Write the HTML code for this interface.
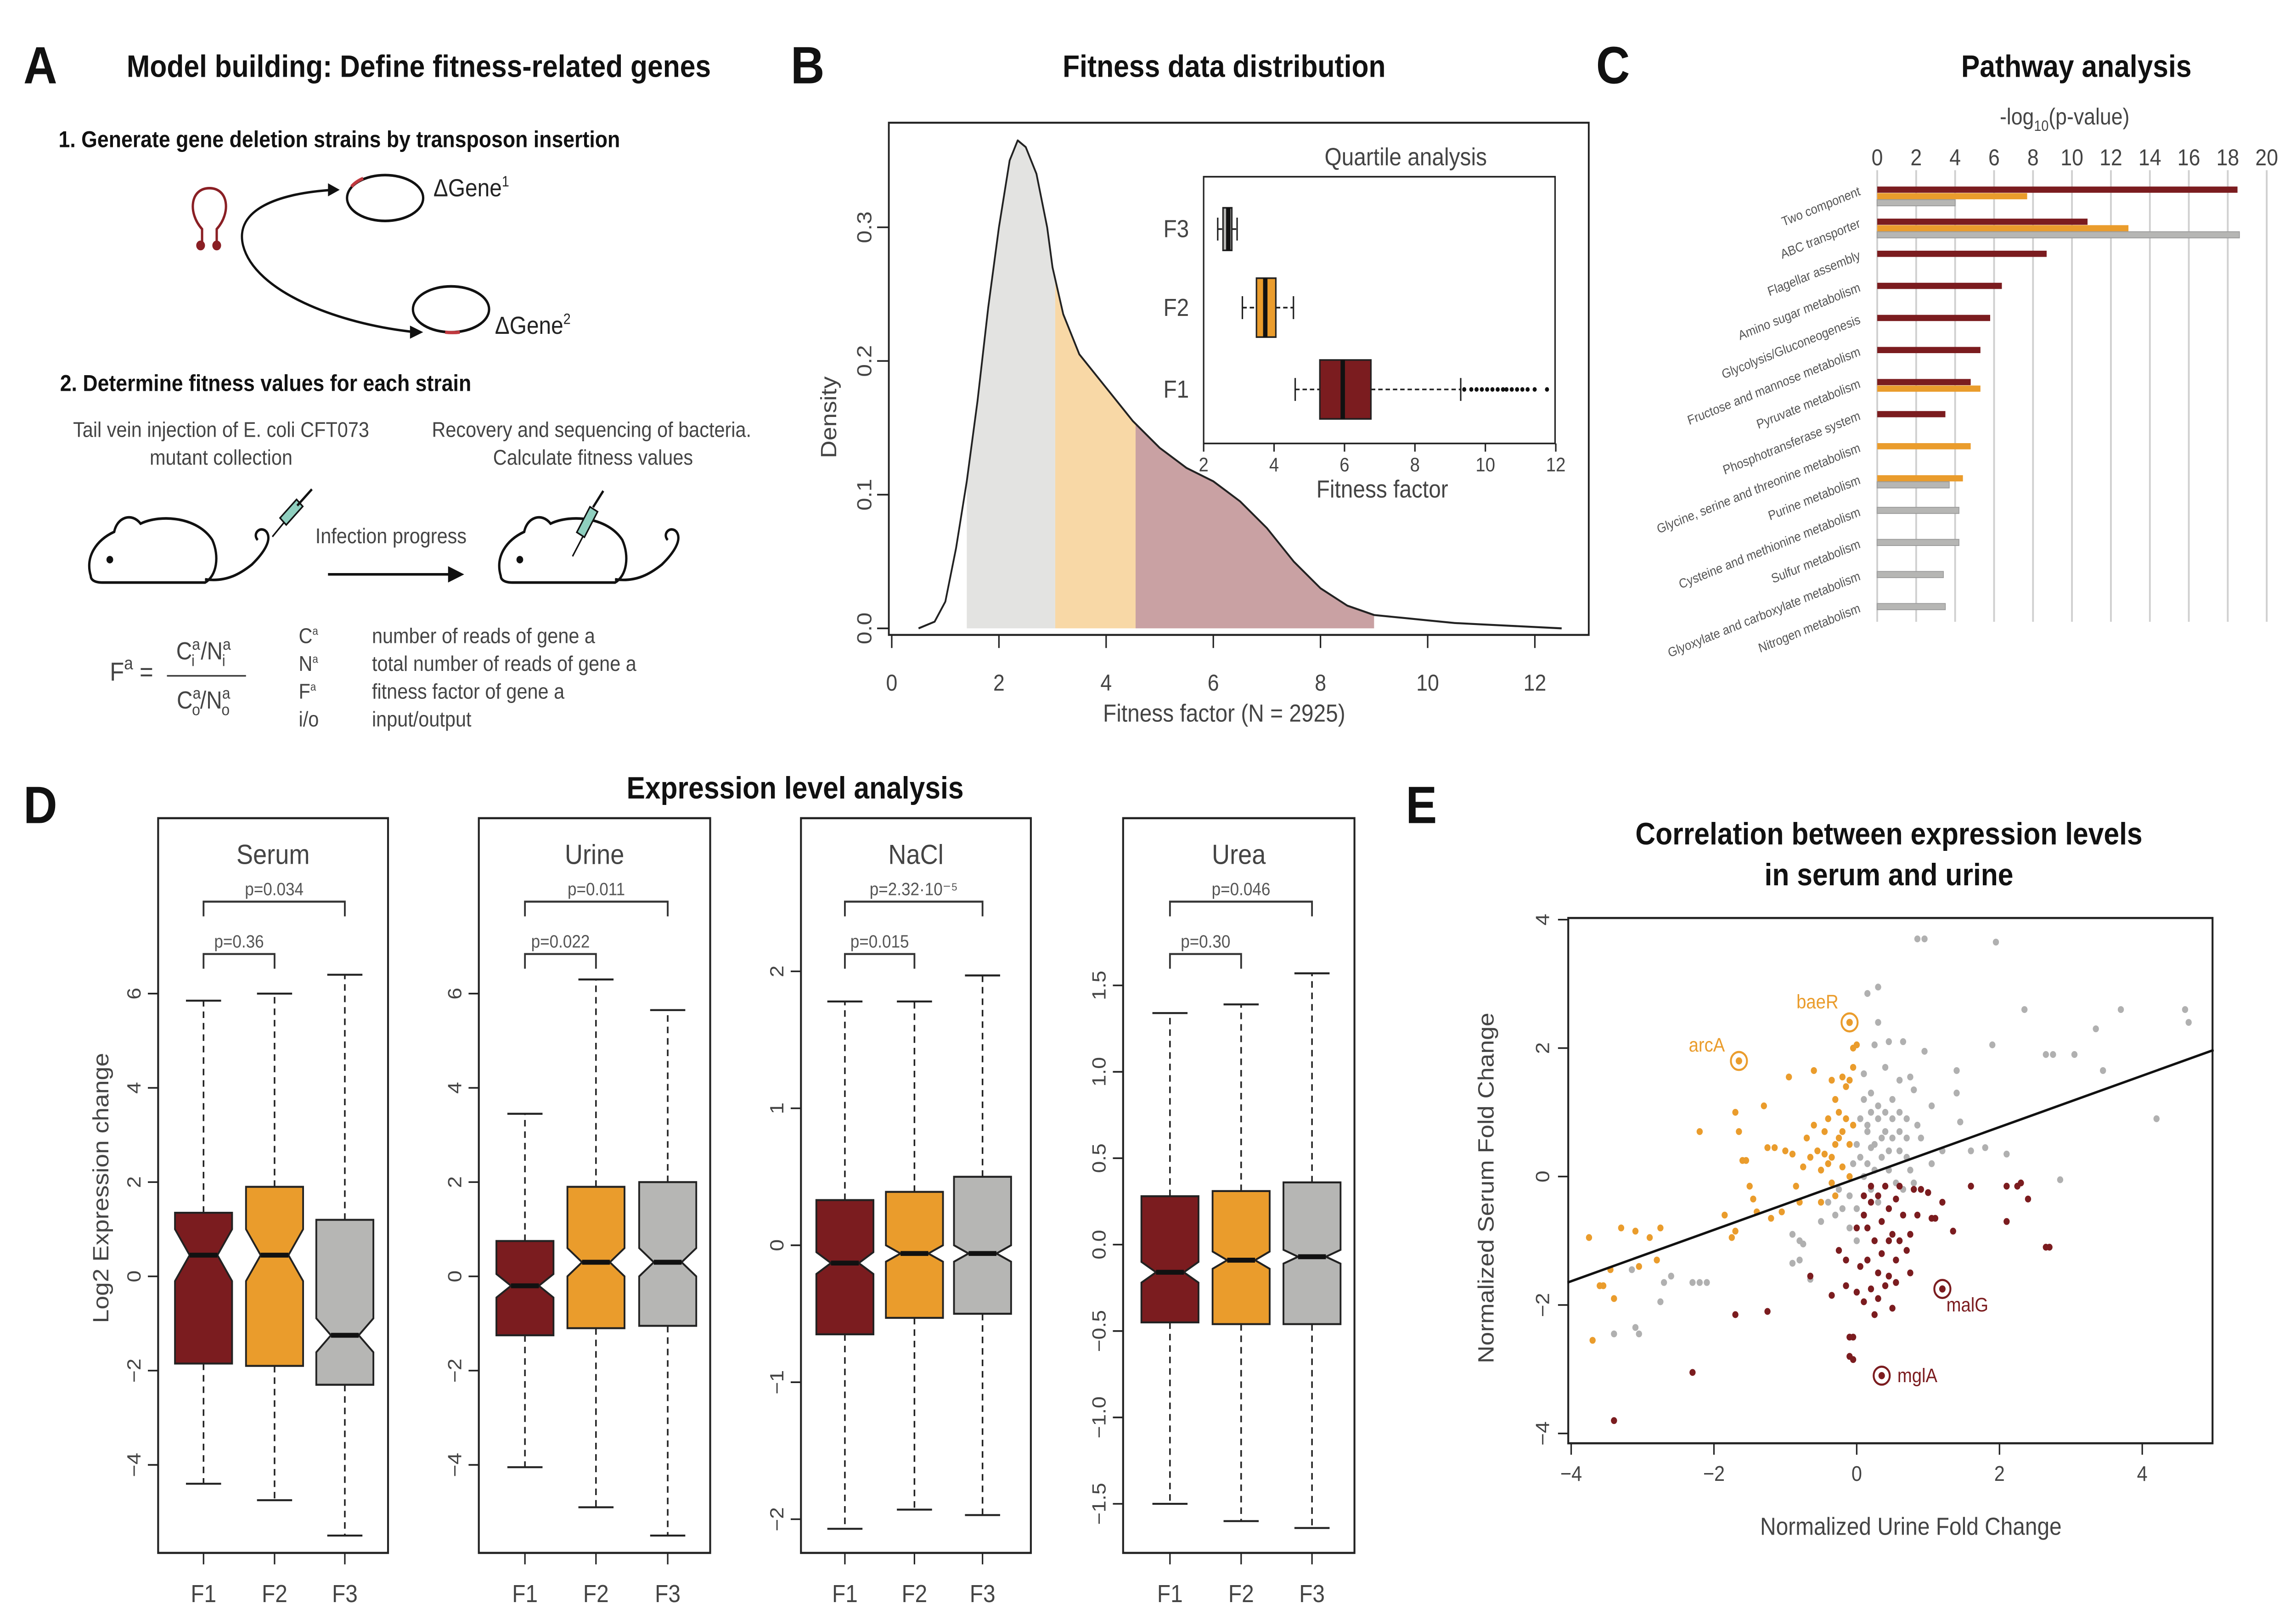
<!DOCTYPE html>
<html><head><meta charset="utf-8"><title>Fitness figure</title>
<style>
html,body{margin:0;padding:0;background:#fff;overflow:hidden;width:100%;height:100%;}
svg{display:block;font-family:"Liberation Sans",Arial,sans-serif;width:100vw;height:100vh;}
</style></head>
<body>
<svg id="fig" xmlns="http://www.w3.org/2000/svg" viewBox="0 0 1568 990" preserveAspectRatio="none">
<rect x="0" y="0" width="1568" height="990" fill="#fff"/>
<!-- ============ PANEL A ============ -->
<g>
<text x="16" y="51" font-size="32" font-weight="bold" fill="#111">A</text>
<text x="286" y="47" font-size="19" font-weight="bold" text-anchor="middle" fill="#111">Model building: Define fitness-related genes</text>
<text x="40" y="90" font-size="14" font-weight="bold" fill="#111">1. Generate gene deletion strains by transposon insertion</text>
<g fill="none" stroke="#8a1f24" stroke-width="1.6">
<path d="M138,148 L138,140 C128,130 130,115 143,115 C156,115 158,130 148,140 L148,148"/>
<circle cx="137" cy="150" r="2.2" fill="#8a1f24"/><circle cx="148" cy="150" r="2.2" fill="#8a1f24"/>
</g>
<path d="M228,116 C190,118 160,128 166,150 C174,178 230,198 284,203" fill="none" stroke="#111" stroke-width="1.5"/>
<polygon points="232,116 224,112 224,120" fill="#111"/>
<polygon points="289,203 280,199 280,207" fill="#111"/>
<ellipse cx="263" cy="121" rx="26" ry="14" fill="none" stroke="#111" stroke-width="1.6"/>
<path d="M240,114 A26,14 0 0 1 248,109" stroke="#c0393f" stroke-width="2" fill="none"/>
<ellipse cx="308" cy="189" rx="26" ry="14" fill="none" stroke="#111" stroke-width="1.6"/>
<path d="M304,203 A26,14 0 0 0 314,203" stroke="#c0393f" stroke-width="2" fill="none"/>
<text x="296" y="120" font-size="15" fill="#222">ΔGene<tspan font-size="9" dy="-6">1</tspan></text>
<text x="338" y="204" font-size="15" fill="#222">ΔGene<tspan font-size="9" dy="-6">2</tspan></text>
<text x="41" y="239" font-size="14" font-weight="bold" fill="#111">2. Determine fitness values for each strain</text>
<g font-size="13" fill="#444" text-anchor="middle">
<text x="151" y="267">Tail vein injection of E. coli CFT073</text>
<text x="151" y="284">mutant collection</text>
<text x="404" y="267">Recovery and sequencing of bacteria.</text>
<text x="405" y="284">Calculate fitness values</text>
</g>
<g fill="none" stroke="#111" stroke-width="1.6">
<path d="M62,352 C58,340 66,330 78,325 C80,316 90,313 96,320 C110,314 135,316 145,330 C150,340 148,352 140,356 L70,356 C64,356 62,354 62,352 Z"/>
<path d="M140,354 C155,356 165,350 172,345 C180,338 186,330 182,325 C178,321 172,326 176,330"/>
<circle cx="75" cy="342" r="1.5" fill="#111"/>
</g>
<g>
<line x1="186" y1="328" x2="197" y2="316" stroke="#111" stroke-width="1"/>
<rect x="196" y="305" width="6" height="16" fill="#8fcfbf" stroke="#111" stroke-width="1" transform="rotate(45 199 313)"/>
<line x1="203" y1="309" x2="213" y2="299" stroke="#111" stroke-width="1.5"/>
</g>
<g fill="none" stroke="#111" stroke-width="1.6">
<path d="M342,352 C338,340 346,330 358,325 C360,316 370,313 376,320 C390,314 415,316 425,330 C430,340 428,352 420,356 L350,356 C344,356 342,354 342,352 Z"/>
<path d="M420,354 C435,356 445,350 452,345 C460,338 466,330 462,325 C458,321 452,326 456,330"/>
<circle cx="355" cy="342" r="1.5" fill="#111"/>
</g>
<g>
<line x1="391" y1="340" x2="398" y2="328" stroke="#111" stroke-width="1"/>
<rect x="398" y="310" width="6" height="18" fill="#8fcfbf" stroke="#111" stroke-width="1" transform="rotate(30 401 319)"/>
<line x1="405" y1="310" x2="412" y2="300" stroke="#111" stroke-width="1.5"/>
</g>
<text x="267" y="332" font-size="13" fill="#444" text-anchor="middle">Infection progress</text>
<line x1="224" y1="351" x2="308" y2="351" stroke="#111" stroke-width="1.6"/>
<polygon points="317,351 306,346 306,356" fill="#111"/>
<g fill="#444">
<text x="75" y="416" font-size="16">F<tspan font-size="11" dy="-7">a</tspan><tspan dy="7"> =</tspan></text>
<text x="139" y="403" font-size="15" text-anchor="middle">C<tspan font-size="10" dy="-6">a</tspan><tspan font-size="10" dx="-6" dy="10">i</tspan><tspan dy="-4"> /N</tspan><tspan font-size="10" dy="-6">a</tspan><tspan font-size="10" dx="-6" dy="10">i</tspan></text>
<line x1="114" y1="413" x2="168" y2="413" stroke="#444" stroke-width="1"/>
<text x="139" y="433" font-size="15" text-anchor="middle">C<tspan font-size="10" dy="-6">a</tspan><tspan font-size="10" dx="-6" dy="10">o</tspan><tspan dy="-4">/N</tspan><tspan font-size="10" dy="-6">a</tspan><tspan font-size="10" dx="-6" dy="10">o</tspan></text>
</g>
<g font-size="13" fill="#444">
<text x="204" y="393">C<tspan font-size="7" dy="-5">a</tspan></text><text x="254" y="393">number of reads of gene a</text>
<text x="204" y="410">N<tspan font-size="7" dy="-5">a</tspan></text><text x="254" y="410">total number of reads of gene a</text>
<text x="204" y="427">F<tspan font-size="7" dy="-5">a</tspan></text><text x="254" y="427">fitness factor of gene a</text>
<text x="204" y="444">i/o</text><text x="254" y="444">input/output</text>
</g>
</g>

<!-- ============ PANEL B ============ -->
<g id="panelB">
<text x="540" y="51" font-size="32" font-weight="bold" fill="#111">B</text>
<text x="836" y="47" font-size="19" font-weight="bold" text-anchor="middle" fill="#111">Fitness data distribution</text>
<rect x="607" y="75" width="478" height="313" fill="none" stroke="#222" stroke-width="1.2"/>
<text transform="translate(571,255) rotate(-90)" font-size="15" fill="#444" text-anchor="middle">Density</text>
<text x="836" y="441" font-size="15" fill="#444" text-anchor="middle">Fitness factor (N = 2925)</text>
<rect x="822" y="108" width="240" height="163" fill="#fff" stroke="#222" stroke-width="1"/>
<text x="960" y="101" font-size="15" fill="#444" text-anchor="middle">Quartile analysis</text>
<text x="944" y="304" font-size="15" fill="#444" text-anchor="middle">Fitness factor</text>
</g>

<!-- ============ PANEL C ============ -->
<g id="panelC">
<text x="1090" y="51" font-size="32" font-weight="bold" fill="#111">C</text>
<text x="1418" y="47" font-size="19" font-weight="bold" text-anchor="middle" fill="#111">Pathway analysis</text>
<text x="1410" y="76" font-size="14" fill="#444" text-anchor="middle">-log<tspan font-size="9" dy="4">10</tspan><tspan dy="-4">(p-value)</tspan></text>
</g>

<!-- ============ PANEL D ============ -->
<g id="panelD">
<text x="16" y="503" font-size="32" font-weight="bold" fill="#111">D</text>
<text x="543" y="488" font-size="19" font-weight="bold" text-anchor="middle" fill="#111">Expression level analysis</text>
<text transform="translate(74,726) rotate(-90)" font-size="15" fill="#444" text-anchor="middle">Log2 Expression change</text>
</g>

<!-- ============ PANEL E ============ -->
<g id="panelE">
<text x="960" y="503" font-size="32" font-weight="bold" fill="#111">E</text>
<text x="1290" y="516" font-size="19" font-weight="bold" text-anchor="middle" fill="#111">Correlation between expression levels</text>
<text x="1290" y="541" font-size="19" font-weight="bold" text-anchor="middle" fill="#111">in serum and urine</text>
<text x="1305" y="938" font-size="15" fill="#444" text-anchor="middle">Normalized Urine Fold Change</text>
<text transform="translate(1020,726) rotate(-90)" font-size="15" fill="#444" text-anchor="middle">Normalized Serum Fold Change</text>
</g>
</svg>

<script>
// ---------- Panel B data ----------
const densityX = [0.5,0.8,1.0,1.2,1.4,1.6,1.8,2.0,2.2,2.35,2.5,2.7,2.9,3.0,3.2,3.5,4.0,4.5,5.0,5.5,6.0,6.5,7.0,7.5,8.0,8.5,9.0,9.5,10,10.5,11,11.5,12,12.5];
const densityY = [0.0,0.005,0.02,0.06,0.11,0.17,0.24,0.30,0.35,0.365,0.36,0.34,0.30,0.27,0.235,0.205,0.18,0.155,0.135,0.12,0.11,0.095,0.075,0.05,0.03,0.017,0.01,0.008,0.006,0.004,0.003,0.002,0.001,0.0];
const quartileCuts = [1.4,3.05,4.55,9.0];
const densityTicksX = [0,2,4,6,8,10,12];
const densityTicksY = [0.0,0.1,0.2,0.3];
const insetGroups = ['F3','F2','F1'];
const insetMin = [2.4,3.1,4.6];
const insetQ1 = [2.55,3.5,5.3];
const insetMed = [2.7,3.75,5.95];
const insetQ3 = [2.8,4.05,6.75];
const insetMax = [2.95,4.55,9.3];
const insetOutliersF1 = [9.4,9.6,9.75,9.9,10.05,10.2,10.35,10.5,10.6,10.75,10.9,11.05,11.2,11.4,11.75];
const insetTicks = [2,4,6,8,10,12];

// ---------- Panel C data ----------
const pathways = ['Two component','ABC transporter','Flagellar assembly','Amino sugar metabolism','Glycolysis/Gluconeogenesis','Fructose and mannose metabolism','Pyruvate metabolism','Phosphotransferase system','Glycine, serine and threonine metabolism','Purine metabolism','Cysteine and methionine metabolism','Sulfur metabolism','Glyoxylate and carboxylate metabolism','Nitrogen metabolism'];
const pathF1 = [18.5,10.8,8.7,6.4,5.8,5.3,4.8,3.5,0,0,0,0,0,0];
const pathF2 = [7.7,12.9,0,0,0,0,5.3,0,4.8,4.4,0,0,0,0];
const pathF3 = [4.0,18.6,0,0,0,0,0,0,0,3.7,4.2,4.2,3.4,3.5];
const pathTicks = [0,2,4,6,8,10,12,14,16,18,20];

// ---------- Panel D data ----------
const conditions = ['Serum','Urine','NaCl','Urea'];
const boxGroups = ['F1','F2','F3'];
const serumStats = [[-4.4,-1.85,0.45,1.35,5.85],[-4.75,-1.9,0.45,1.9,6.0],[-5.5,-2.3,-1.25,1.2,6.4]];
const urineStats = [[-4.05,-1.25,-0.2,0.75,3.45],[-4.9,-1.1,0.3,1.9,6.3],[-5.5,-1.05,0.3,2.0,5.65]];
const naclStats = [[-2.07,-0.65,-0.13,0.33,1.78],[-1.93,-0.53,-0.06,0.39,1.78],[-1.97,-0.5,-0.06,0.5,1.97]];
const ureaStats = [[-1.5,-0.45,-0.16,0.28,1.34],[-1.6,-0.46,-0.09,0.31,1.39],[-1.64,-0.46,-0.07,0.36,1.57]];
const serumNotch = [0.55,0.55,0.36];
const urineNotch = [0.25,0.3,0.3];
const naclNotch = [0.08,0.06,0.06];
const ureaNotch = [0.06,0.05,0.04];
const serumTicks = [-4,-2,0,2,4,6];
const urineTicks = [-4,-2,0,2,4,6];
const naclTicks = [-2,-1,0,1,2];
const ureaTicks = [-1.5,-1.0,-0.5,0.0,0.5,1.0,1.5];
const pValuesF1F3 = ['p=0.034','p=0.011','p=2.32·10⁻⁵','p=0.046'];
const pValuesF1F2 = ['p=0.36','p=0.022','p=0.015','p=0.30'];

// ---------- Panel E data ----------
const orangeX = [-3.75,-3.7,-3.6,-3.55,-3.45,-3.4,-3.3,-3.1,-3.05,-2.9,-2.8,-2.75,-2.2,-1.85,-1.75,-1.7,-1.7,-1.65,-1.6,-1.55,-1.5,-1.45,-1.4,-1.3,-1.25,-1.15,-1.2,-1.05,-1.0,-0.95,-0.9,-0.85,-0.8,-0.75,-0.7,-0.6,-0.6,-0.55,-0.5,-0.5,-0.45,-0.4,-0.4,-0.35,-0.35,-0.3,-0.3,-0.3,-0.25,-0.2,-0.2,-0.2,-0.15,-0.15,-0.1,-0.1,-0.1,-0.05,-0.05,0.0,-0.05,-0.25,-0.45,-0.65,-0.35];
const orangeY = [-0.95,-2.55,-1.7,-1.7,-1.45,-1.9,-0.8,-0.85,-1.4,-0.95,-1.3,-0.8,0.7,-0.6,-0.95,-0.85,1.0,0.7,0.25,0.25,-0.15,-0.35,-0.55,1.1,0.45,0.45,-0.65,-0.55,0.4,1.55,0.35,-0.15,-0.4,0.15,0.6,1.65,0.8,0.4,0.1,-0.4,0.7,0.9,0.2,1.5,0.3,1.2,0.5,-0.3,1.0,1.55,0.7,0.15,1.4,0.9,1.5,0.5,0.0,1.7,2.0,2.05,0.8,0.6,0.35,0.3,-0.1];
const greyX = [-3.4,-3.1,-3.05,-2.75,-2.6,-2.7,-2.3,-2.2,-2.1,-3.15,-0.9,-0.8,-0.75,-0.9,-0.8,-0.65,-0.5,-0.4,0.15,0.3,0.3,0.25,0.45,0.65,0.95,1.4,1.9,2.35,2.65,2.75,3.05,3.35,3.45,3.7,4.6,4.65,4.2,0.85,0.95,1.95,1.45,1.4,1.05,1.05,1.2,1.6,1.8,2.1,2.85,0.7,0.5,0.6,0.75,0.4,0.8,0.2,0.1,0.1,0.2,0.3,0.4,0.5,0.6,0.7,0.15,0.25,0.35,0.45,0.55,0.65,0.05,0.1,0.2,0.3,0.0,-0.1,-0.2,-0.1,0.0,0.1,0.15,0.25,0.35,0.45,0.05,0.3,0.5,0.6,0.75,0.8,0.7,-0.3,-0.35,-0.25,0.0,0.2,0.4,0.6,0.85,0.9,-0.05,0.15];
const greyY = [-2.45,-2.35,-2.45,-1.95,-1.55,-1.65,-1.65,-1.65,-1.65,-1.45,-0.9,-1.0,-1.05,-1.35,-1.3,-1.6,-0.7,-0.4,2.85,2.95,2.4,2.05,2.1,2.1,1.95,1.65,2.05,2.6,1.9,1.9,1.9,2.3,1.65,2.6,2.6,2.4,0.9,3.7,3.7,3.65,0.85,1.3,1.1,0.2,0.4,0.4,0.45,0.35,-0.05,0.9,1.2,1.5,1.55,1.7,1.35,1.3,1.6,1.2,1.0,0.9,0.7,0.6,0.4,0.3,0.7,0.5,0.3,0.1,-0.1,-0.2,0.3,0.0,-0.2,-0.4,-0.5,-0.3,-0.5,-0.8,-1.0,-0.6,0.2,0.1,0.6,0.4,0.9,1.1,0.9,0.7,0.1,-0.1,0.6,-0.6,-0.1,-0.2,0.5,0.45,1.0,1.0,0.8,0.6,0.2,0.8];
const redX = [-3.4,-2.3,-1.7,-1.25,-0.65,-0.35,-0.1,-0.05,-0.1,-0.05,-0.25,-0.15,-0.15,0.0,0.1,0.2,0.25,0.3,0.5,0.45,0.55,0.0,0.1,0.2,0.3,0.35,0.45,0.5,0.6,0.25,0.15,0.05,0.35,0.55,0.65,0.7,0.75,0.8,0.9,1.0,0.85,1.05,1.1,1.2,1.35,1.6,2.1,2.25,2.3,2.4,2.1,2.65,2.7,0.75,0.4,0.1,0.2,0.4,0.6,0.15,0.45,0.55,0.3];
const redY = [-3.8,-3.05,-2.15,-2.1,-1.55,-1.85,-2.5,-2.5,-2.8,-2.85,-1.15,-1.3,-1.7,-1.8,-1.95,-1.75,-2.15,-1.9,-2.05,-1.55,-1.65,-0.8,-0.6,-0.4,-0.3,-0.7,-0.5,-0.9,-1.0,-1.0,-1.3,-1.4,-1.2,-0.35,-0.6,-1.15,-0.9,-0.2,-0.2,-0.25,-0.6,-0.65,-0.65,-0.4,-0.85,-0.15,-0.15,-0.15,-0.1,-0.35,-0.7,-1.1,-1.1,-1.5,-1.7,-0.3,-0.15,-0.15,-0.15,-0.8,-1.0,-1.3,-1.5];
const highlightNames = ['arcA','baeR','malG','mglA'];
const highlightX = [-1.65,-0.1,1.2,0.35];
const highlightY = [1.8,2.4,-1.75,-3.1];
const highlightLabelX = [-2.1,-0.55,1.55,0.85];
const highlightLabelY = [2.05,2.72,-2.0,-3.1];
const fitSlope = 0.4;
const fitIntercept = -0.03;
const scatterTicks = [-4,-2,0,2,4];

// ---------- helpers ----------
const NS = 'http://www.w3.org/2000/svg';
function mk(parent, tag, attrs, txt){
  const e = document.createElementNS(NS, tag);
  for (const k in attrs) e.setAttribute(k, attrs[k]);
  if (txt !== undefined) e.textContent = txt;
  parent.appendChild(e);
  return e;
}
const RED='#7b1c1f', ORANGE='#ea9c2c', GREY='#b6b6b4';

// ================= Panel B =================
(function(){
  const g = document.getElementById('panelB');
  const xs = v => 609 + v*36.6;
  const ys = v => 384 - v*817;
  function dens(x){
    for (let i=0;i<densityX.length-1;i++){
      if (x>=densityX[i] && x<=densityX[i+1]){
        const t=(x-densityX[i])/(densityX[i+1]-densityX[i]);
        return densityY[i]+t*(densityY[i+1]-densityY[i]);
      }
    }
    return 0;
  }
  const fills=['#e3e3e1','#f8d8a6','#c9a1a3'];
  const fillNames=['density-fill-f3','density-fill-f2','density-fill-f1'];
  for (let q=0;q<3;q++){
    const a=quartileCuts[q], b=quartileCuts[q+1];
    let pts=[xs(a)+','+ys(0)];
    const n=40;
    for(let i=0;i<=n;i++){const x=a+(b-a)*i/n; pts.push(xs(x)+','+ys(dens(x)));}
    pts.push(xs(b)+','+ys(0));
    const p = mk(g,'polygon',{points:pts.join(' '),fill:fills[q]});
    
    
  }
  let d='';
  densityX.forEach((x,i)=>{ d += (i?'L':'M')+xs(x)+','+ys(densityY[i]); });
  const line = mk(g,'path',{d:d,fill:'none',stroke:'#222','stroke-width':1.2,'stroke-linejoin':'round'});
  
  
  densityTicksX.forEach(v=>{
    mk(g,'line',{x1:xs(v),x2:xs(v),y1:388,y2:396,stroke:'#222','stroke-width':1});
    const t = mk(g,'text',{x:xs(v),y:422,'font-size':14,fill:'#444','text-anchor':'middle'},String(v));
    
    
  });
  densityTicksY.forEach(v=>{
    mk(g,'line',{x1:599,x2:607,y1:ys(v),y2:ys(v),stroke:'#222','stroke-width':1});
    const t = mk(g,'text',{transform:'translate(595,'+ys(v)+') rotate(-90)','font-size':14,fill:'#444','text-anchor':'middle'},v.toFixed(1));
    
    
  });
  // inset
  const ix = v => 822 + (v-2)*24.05;
  const rowY = [140,188,238];
  const hh = [13,18,18];
  const cols=[GREY,ORANGE,RED];
  insetGroups.forEach((gname,i)=>{
    const y=rowY[i], h=hh[i];
    mk(g,'line',{x1:ix(insetMin[i]),x2:ix(insetQ1[i]),y1:y,y2:y,stroke:'#222','stroke-dasharray':'3,2'});
    mk(g,'line',{x1:ix(insetQ3[i]),x2:ix(insetMax[i]),y1:y,y2:y,stroke:'#222','stroke-dasharray':'3,2'});
    mk(g,'line',{x1:ix(insetMin[i]),x2:ix(insetMin[i]),y1:y-7,y2:y+7,stroke:'#222'});
    mk(g,'line',{x1:ix(insetMax[i]),x2:ix(insetMax[i]),y1:y-7,y2:y+7,stroke:'#222'});
    const b = mk(g,'rect',{x:ix(insetQ1[i]),y:y-h,width:ix(insetQ3[i])-ix(insetQ1[i]),height:2*h,fill:cols[i],stroke:'#222','stroke-width':1});
    
    
    mk(g,'line',{x1:ix(insetMed[i]),x2:ix(insetMed[i]),y1:y-h,y2:y+h,stroke:'#111','stroke-width':3});
    const t = mk(g,'text',{x:812,y:y+5,'font-size':15,fill:'#444','text-anchor':'end'},gname);
    
    
  });
  insetOutliersF1.forEach(v=>{
    const c = mk(g,'circle',{cx:ix(v),cy:238,r:1.4,fill:'#111'});
    
    
  });
  insetTicks.forEach(v=>{
    mk(g,'line',{x1:ix(v),x2:ix(v),y1:271,y2:276,stroke:'#222'});
    const t = mk(g,'text',{x:ix(v),y:288,'font-size':12,fill:'#444','text-anchor':'middle'},String(v));
    
    
  });
})();

// ================= Panel C =================
(function(){
  const g = document.getElementById('panelC');
  const xs = v => 1282 + v*13.3;
  const rowTop = i => 114 + i*19.6;
  pathTicks.forEach(v=>{
    const gl = mk(g,'line',{x1:xs(v),x2:xs(v),y1:104,y2:380,stroke:'#cfcfcf','stroke-width':1.2});
    
    
    const t = mk(g,'text',{x:xs(v),y:101,'font-size':14,fill:'#444','text-anchor':'middle'},String(v));
    
    
  });
  const series=[pathF1,pathF2,pathF3];
  const cols=[RED,ORANGE,GREY];
  const sn=['f1','f2','f3'];
  pathways.forEach((name,i)=>{
    let k=0;
    series.forEach((s,si)=>{
      if (s[i]>0){
        const r = mk(g,'rect',{x:xs(0),y:rowTop(i)+k*4,width:xs(s[i])-xs(0),height:3.8,fill:cols[si],stroke:si==2?'#999':'none','stroke-width':0.5});
        
        
        k++;
      }
    });
    const y=rowTop(i)+5;
    const t = mk(g,'text',{transform:'translate(1271,'+y+') rotate(-20)','font-size':8,fill:'#555','text-anchor':'end'},name);
    
    
  });
})();

// ================= Panel D =================
(function(){
  const g = document.getElementById('panelD');
  const frames = [[108,265],[327,485],[547,704],[767,925]];
  const centers = [[139,187.5,235.5],[358.5,407,456],[577,624.5,671],[799,847.6,896]];
  const zeros = [780,780,761,760.6];
  const scales = [28.8,28.8,83.7,105.6];
  const stats = [serumStats,urineStats,naclStats,ureaStats];
  const notches = [serumNotch,urineNotch,naclNotch,ureaNotch];
  const ticks = [serumTicks,urineTicks,naclTicks,ureaTicks];
  const cols=[RED,ORANGE,GREY];
  conditions.forEach((cond,p)=>{
    const [L,R]=frames[p];
    const ys = v => zeros[p] - v*scales[p];
    const fr = mk(g,'rect',{x:L,y:500,width:R-L,height:449,fill:'none',stroke:'#222','stroke-width':1.3});
    
    
    const tt = mk(g,'text',{x:(L+R)/2,y:528,'font-size':17,fill:'#444','text-anchor':'middle'},cond);
    
    
    ticks[p].forEach(v=>{
      mk(g,'line',{x1:L-7,x2:L,y1:ys(v),y2:ys(v),stroke:'#222'});
      const lab = (p===3? v.toFixed(1) : String(v)).replace('-','\u2212');
      const t = mk(g,'text',{transform:'translate('+(L-12)+','+ys(v)+') rotate(-90)','font-size':13,fill:'#444','text-anchor':'middle'},lab);
      
      
    });
    const c = centers[p];
    const br1 = mk(g,'path',{d:`M${c[0]},560 L${c[0]},551 L${c[2]},551 L${c[2]},560`,fill:'none',stroke:'#333','stroke-width':1.2});
    
    
    const br2 = mk(g,'path',{d:`M${c[0]},592 L${c[0]},583 L${c[1]},583 L${c[1]},592`,fill:'none',stroke:'#333','stroke-width':1.2});
    
    
    const p1 = mk(g,'text',{x:(c[0]+c[2])/2,y:547,'font-size':11,fill:'#555','text-anchor':'middle'},pValuesF1F3[p]);
    
    
    const p2 = mk(g,'text',{x:(c[0]+c[1])/2,y:579,'font-size':11,fill:'#555','text-anchor':'middle'},pValuesF1F2[p]);
    
    
    boxGroups.forEach((gn,i)=>{
      const [mn,q1,md,q3,mx]=stats[p][i];
      const n=notches[p][i];
      const cx=c[i], hw=19.5, ni=10;
      mk(g,'line',{x1:cx,x2:cx,y1:ys(q3),y2:ys(mx),stroke:'#222','stroke-dasharray':'4,3','stroke-width':1.1});
      mk(g,'line',{x1:cx,x2:cx,y1:ys(q1),y2:ys(mn),stroke:'#222','stroke-dasharray':'4,3','stroke-width':1.1});
      mk(g,'line',{x1:cx-12,x2:cx+12,y1:ys(mx),y2:ys(mx),stroke:'#222','stroke-width':1.2});
      mk(g,'line',{x1:cx-12,x2:cx+12,y1:ys(mn),y2:ys(mn),stroke:'#222','stroke-width':1.2});
      const Lx=cx-hw, Rx=cx+hw;
      const d=`M${Lx},${ys(q3)} L${Rx},${ys(q3)} L${Rx},${ys(md+n)} L${Rx-ni},${ys(md)} L${Rx},${ys(md-n)} L${Rx},${ys(q1)} L${Lx},${ys(q1)} L${Lx},${ys(md-n)} L${Lx+ni},${ys(md)} L${Lx},${ys(md+n)} Z`;
      const b = mk(g,'path',{d:d,fill:cols[i],stroke:'#222','stroke-width':1.2});
      
      
      mk(g,'line',{x1:Lx+ni,x2:Rx-ni,y1:ys(md),y2:ys(md),stroke:'#111','stroke-width':3});
      mk(g,'line',{x1:cx,x2:cx,y1:949,y2:956,stroke:'#222'});
      const t = mk(g,'text',{x:cx,y:979,'font-size':15,fill:'#444','text-anchor':'middle'},gn);
      
      
    });
  });
})();

// ================= Panel E =================
(function(){
  const g = document.getElementById('panelE');
  const xs = v => 1268 + v*48.75;
  const ys = v => 719 - v*39.25;
  const fr = mk(g,'rect',{x:1071,y:561,width:440,height:321,fill:'none',stroke:'#222','stroke-width':1.3});
  
  
  scatterTicks.forEach(v=>{
    const lab=String(v).replace('-','\u2212');
    mk(g,'line',{x1:xs(v),x2:xs(v),y1:882,y2:889,stroke:'#222'});
    const t = mk(g,'text',{x:xs(v),y:905,'font-size':13,fill:'#444','text-anchor':'middle'},lab);
    
    
    mk(g,'line',{x1:1064,x2:1071,y1:ys(v),y2:ys(v),stroke:'#222'});
    const t2 = mk(g,'text',{transform:'translate(1058,'+ys(v)+') rotate(-90)','font-size':13,fill:'#444','text-anchor':'middle'},lab);
    
    
  });
  function pts(X,Y,col,name){
    X.forEach((x,i)=>{
      const c = mk(g,'circle',{cx:xs(x),cy:ys(Y[i]),r:2.1,fill:col});
      
      
    });
  }
  pts(greyX,greyY,'#b0b0b0','point-grey');
  pts(orangeX,orangeY,ORANGE,'point-orange');
  pts(redX,redY,RED,'point-red');
  const x0=-4.05, x1=5.0;
  const fl = mk(g,'line',{x1:xs(x0),y1:ys(fitSlope*x0+fitIntercept),x2:xs(x1),y2:ys(fitSlope*x1+fitIntercept),stroke:'#111','stroke-width':1.5});
  
  
  const hcols=[ORANGE,ORANGE,RED,RED];
  highlightNames.forEach((nm,i)=>{
    const c = mk(g,'circle',{cx:xs(highlightX[i]),cy:ys(highlightY[i]),r:2.2,fill:hcols[i]});
    
    
    mk(g,'circle',{cx:xs(highlightX[i]),cy:ys(highlightY[i]),r:5.5,fill:'none',stroke:hcols[i],'stroke-width':1.3});
    const t = mk(g,'text',{x:xs(highlightLabelX[i]),y:ys(highlightLabelY[i])+4,'font-size':12,fill:hcols[i],'text-anchor':'middle'},nm);
    
    
  });
})();
</script>
</body></html>
